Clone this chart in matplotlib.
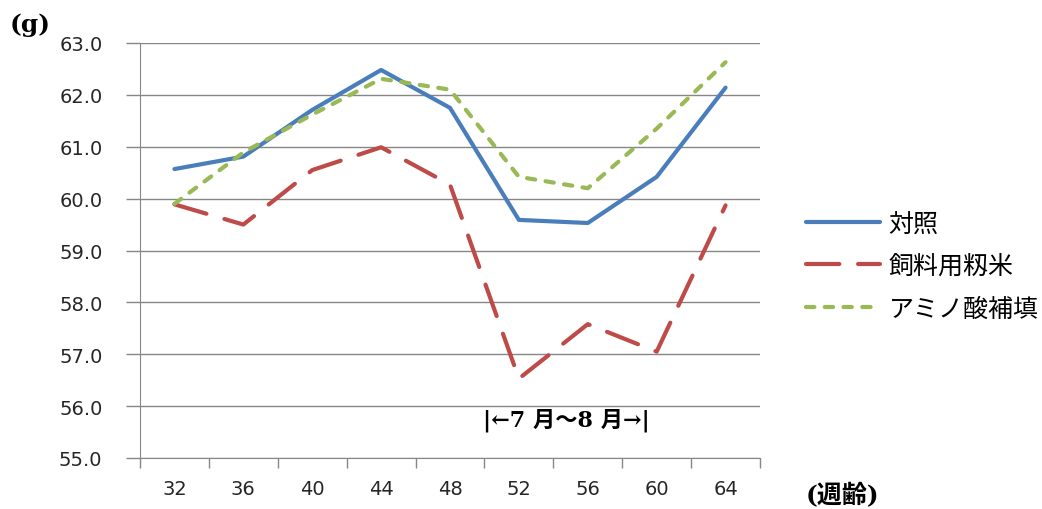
import matplotlib
matplotlib.use("Agg")
import matplotlib.pyplot as plt
import numpy as np

# weeks of age and egg weight (g)
weeks = ["32", "36", "40", "44", "48", "52", "56", "60", "64"]
control = [60.57, 60.81, 61.71, 62.48, 61.75, 59.59, 59.53, 60.42, 62.14]
feed_rice = [59.89, 59.50, 60.55, 60.99, 60.27, 56.53, 57.58, 57.05, 59.87]
amino = [59.90, 60.89, 61.62, 62.31, 62.10, 60.42, 60.20, 61.35, 62.63]
labels = ["対照", "飼料用籾米", "アミノ酸補填"]
yticks = [55.0, 56.0, 57.0, 58.0, 59.0, 60.0, 61.0, 62.0, 63.0]

CJK = ["Noto Sans CJK JP", "DejaVu Sans"]
SERIF_B = ["DejaVu Serif", "Noto Sans CJK JP"]
GRID = "#868686"

fig = plt.figure(figsize=(10.42, 5.10), dpi=100)
ax = fig.add_axes([140 / 1042, 1 - 459 / 510, 620 / 1042, 415 / 510])

x = np.arange(len(weeks))
l1, = ax.plot(x, control, color="#4a7ebb", lw=3, solid_capstyle="round",
              solid_joinstyle="round", zorder=3)
l2, = ax.plot(x, feed_rice, color="#be4b48", lw=3, dash_capstyle="round",
              dash_joinstyle="round", dashes=(8, 4.5), zorder=3)
l3, = ax.plot(x, amino, color="#98b954", lw=3, dash_capstyle="round",
              dash_joinstyle="round", dashes=(2, 2.5), zorder=3)

ax.set_xlim(-0.5, len(weeks) - 0.5)
ax.set_ylim(55, 63)
ax.set_yticks(yticks)
ax.set_yticklabels(["%.1f" % v for v in yticks])
ax.yaxis.grid(True, color=GRID, lw=1)
ax.set_axisbelow(True)

# category axis: ticks at boundaries, labels at centres
ax.set_xticks(np.arange(len(weeks) + 1) - 0.5)
ax.set_xticklabels([])
ax.set_xticks(x, minor=True)
ax.set_xticklabels(weeks, minor=True)
ax.tick_params(axis="x", which="major", length=7, color=GRID, width=1)
ax.tick_params(axis="x", which="minor", length=0, pad=15, labelsize=14,
               labelcolor="#262626")
ax.tick_params(axis="y", length=10, color=GRID, width=1, pad=17,
               labelsize=14, labelcolor="#262626")

for s in ["top", "right"]:
    ax.spines[s].set_visible(False)
ax.spines["left"].set_color(GRID)
ax.spines["bottom"].set_color(GRID)

fig.legend([l1, l2, l3], labels, loc="center left",
           bbox_to_anchor=(806 / 1042, 1 - 267 / 510), frameon=False,
           prop={"family": CJK, "size": 18}, handlelength=2.95,
           handletextpad=0.35, labelspacing=0.66, borderpad=0, borderaxespad=0)

fig.text(10 / 1042, 1 - 25 / 510, "(g)", family=SERIF_B, weight="bold",
         size=18, va="center", ha="left")
fig.text(842 / 1042, 1 - 496 / 510, "(週齢)", family=SERIF_B, weight="bold",
         size=18, va="center", ha="center")
ax.text(5.69, 55.74, "|←7 月～8 月→|", family=SERIF_B, weight="bold",
        size=16, va="center", ha="center")

fig.savefig("out.png", dpi=100, facecolor="white")
